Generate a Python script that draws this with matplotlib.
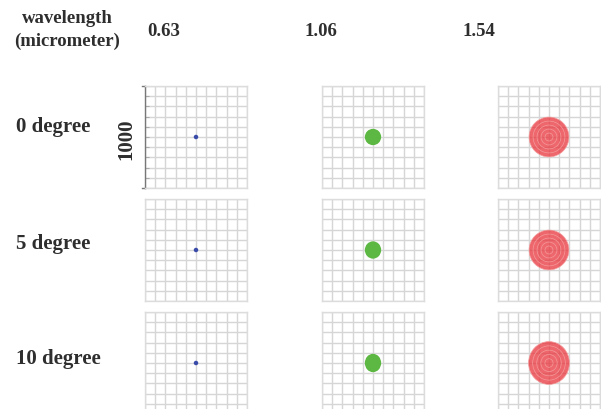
import matplotlib
matplotlib.use("Agg")
import matplotlib.pyplot as plt
from matplotlib.patches import Ellipse

# Data
wavelengths = ["0.63", "1.06", "1.54"]
angles = ["0 degree", "5 degree", "10 degree"]
scale_label = "1000"
# spot semi-axes (same units as the 1000 scale box)
spot_rx = [[22, 80, 195],
           [22, 80, 195],
           [22, 80, 200]]
spot_ry = [[22, 80, 195],
           [22, 85, 195],
           [22, 90, 210]]
spot_colors = ["#3a4aa8", "#5cb843", "#e8343c"]

W, H = 601, 409
fig = plt.figure(figsize=(W / 100, H / 100), dpi=100)
fig.patch.set_facecolor("white")

col_left = [145, 322, 498]
row_top = [86, 199, 312]
pw, ph = 102, 102

font = dict(family=["Liberation Serif", "DejaVu Serif"], weight="bold", color="#2e2e2e")
fs = 15
fs_head = 13.5

for r in range(3):
    for c in range(3):
        ax = fig.add_axes([col_left[c] / W, (H - row_top[r] - ph) / H, pw / W, ph / H])
        ax.set_xlim(-500, 500)
        ax.set_ylim(-500, 500)
        ax.set_facecolor("white")
        ax.set_xticks(range(-500, 501, 100))
        ax.set_yticks(range(-500, 501, 100))
        ax.grid(True, color="#d6d6d6", linewidth=1.0)
        ax.set_axisbelow(True)
        ax.tick_params(length=0, labelleft=False, labelbottom=False)
        for s in ax.spines.values():
            s.set_color("#dcdcdc")
            s.set_linewidth(1.0)
        if r == 0 and c == 0:
            ax.spines["left"].set_color("#777777")
            ax.tick_params(axis="y", left=True, length=3, direction="in", color="#aaaaaa")
            ax.plot([-530, -500], [500, 500], color="#777777", lw=1, clip_on=False)
            ax.plot([-530, -500], [-500, -500], color="#777777", lw=1, clip_on=False)
        rx, ry = spot_rx[r][c], spot_ry[r][c]
        col = spot_colors[c]
        if c == 2:
            ax.add_patch(Ellipse((0, 0), 2 * rx, 2 * ry, facecolor=col, alpha=0.75,
                                 edgecolor="none", zorder=3))
            for k in (0.2, 0.4, 0.6, 0.8, 1.0):
                ax.add_patch(Ellipse((0, 0), 2 * rx * k, 2 * ry * k, facecolor="none",
                                     edgecolor="#f49a9a", linewidth=0.5, zorder=4))
        else:
            ax.add_patch(Ellipse((0, 0), 2 * rx, 2 * ry, facecolor=col,
                                 edgecolor="none", zorder=3))

fig.text(67 / W, 1 - 30 / H, "wavelength\n(micrometer)", ha="center", va="center",
         fontsize=fs_head, linespacing=1.5, **font)
for x, t in zip([164, 321, 479], wavelengths):
    fig.text(x / W, 1 - 32 / H, t, ha="center", va="center", fontsize=fs_head, **font)
for y, t in zip([127, 244, 359], angles):
    fig.text(16 / W, 1 - y / H, t, ha="left", va="center", fontsize=fs, **font)
fig.text(126 / W, 1 - 139 / H, scale_label, ha="center", va="center", rotation=90,
         fontsize=fs, **font)

fig.savefig("out.png", dpi=100)
